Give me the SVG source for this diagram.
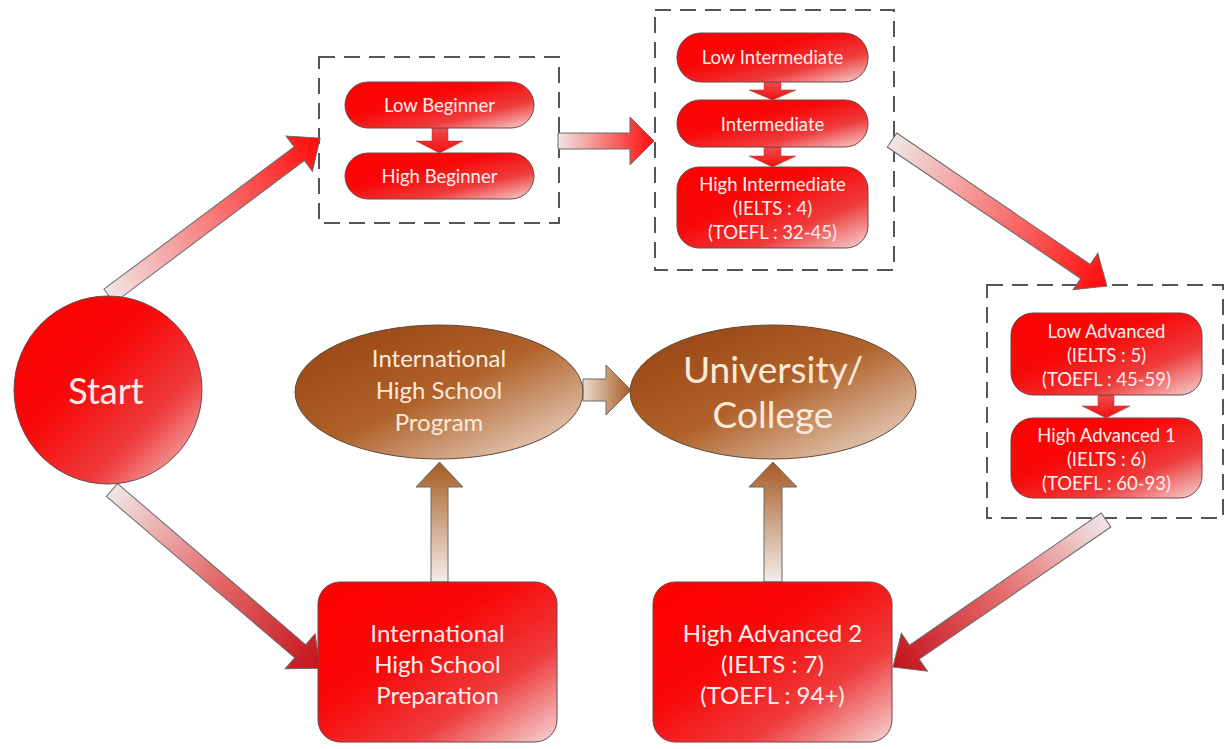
<svg xmlns="http://www.w3.org/2000/svg" width="1225" height="749" viewBox="0 0 1225 749">
<style>
.node{stroke:#6e4646;stroke-width:1}
.bnode{stroke:#5e4a3e;stroke-width:1}
.dash{fill:none;stroke:#555;stroke-width:2;stroke-dasharray:16 9}
.arrow{stroke:#6a6a6a;stroke-width:1}
.t{font-family:Lato,"Liberation Sans",sans-serif;fill:#fdeeee;text-anchor:middle;dominant-baseline:central}
.s{font-size:18.5px}
.m{font-size:24px}
.bt{fill:#fbeadb}
</style>
<defs>
<linearGradient id="gRed" x1="0" y1="0" x2="1" y2="1">
<stop offset="0" stop-color="#ff0000"/><stop offset="0.4" stop-color="#f80808"/><stop offset="0.7" stop-color="#ee3c3c"/><stop offset="1" stop-color="#f5d6d6"/>
</linearGradient>
<linearGradient id="gBrown" x1="0" y1="0" x2="1" y2="1">
<stop offset="0" stop-color="#944010"/><stop offset="0.5" stop-color="#b0622a"/><stop offset="1" stop-color="#f1e4da"/>
</linearGradient>
<linearGradient id="gArR" x1="0" y1="0" x2="1" y2="0">
<stop offset="0" stop-color="#f0e6e6"/><stop offset="1" stop-color="#ff0a0a"/>
</linearGradient>
<linearGradient id="gArD" x1="0" y1="0" x2="1" y2="0">
<stop offset="0" stop-color="#f0e6e6"/><stop offset="0.5" stop-color="#e46a6a"/><stop offset="1" stop-color="#c4121c"/>
</linearGradient>
<linearGradient id="gArBV" x1="0" y1="1" x2="0" y2="0">
<stop offset="0" stop-color="#f4eeea"/><stop offset="1" stop-color="#a65a22"/>
</linearGradient>
<linearGradient id="gArBH" x1="0" y1="0" x2="1" y2="0">
<stop offset="0" stop-color="#ecdccc"/><stop offset="1" stop-color="#a65a22"/>
</linearGradient>
<linearGradient id="gSmall" x1="0" y1="0" x2="0" y2="1">
<stop offset="0" stop-color="#f24a4a"/><stop offset="1" stop-color="#f01010"/>
</linearGradient>
</defs>

<g id="box-beginner"><rect class="dash" x="319" y="57" width="240" height="166"/></g>
<g id="box-intermediate"><rect class="dash" x="655" y="10" width="239" height="260"/></g>
<g id="box-advanced"><rect class="dash" x="987" y="285" width="236" height="233"/></g>

<g id="connectors">
<polygon class="arrow" fill="url(#gArR)" transform="translate(109,296) rotate(-36.8)" points="0,-8.5 237.6,-8.5 237.6,-22 263.6,0 237.6,22 237.6,8.5 0,8.5"/>
<polygon class="arrow" fill="url(#gArR)" points="558,133 630,133 630,117 654,141 630,165 630,149 558,149"/>
<polygon class="arrow" fill="url(#gArR)" transform="translate(892,140) rotate(34.2)" points="0,-8.5 233.9,-8.5 233.9,-22 259.9,0 233.9,22 233.9,8.5 0,8.5"/>
<polygon class="arrow" fill="url(#gArD)" transform="translate(112,490) rotate(40.6)" points="0,-8.5 247.8,-8.5 247.8,-23 273.8,0 247.8,23 247.8,8.5 0,8.5"/>
<polygon class="arrow" fill="url(#gArD)" transform="translate(1106,520) rotate(145.4)" points="0,-8.5 232.8,-8.5 232.8,-23 258.8,0 232.8,23 232.8,8.5 0,8.5"/>
<polygon class="arrow" fill="url(#gArBH)" points="583,379 606,379 606,365 631,390 606,415 606,401 583,401"/>
<polygon class="arrow" fill="url(#gArBV)" points="431,582 431,487 416,487 439.5,462 463,487 448,487 448,582"/>
<polygon class="arrow" fill="url(#gArBV)" points="764,582 764,487 749,487 773,462 797,487 782,487 782,582"/>
<polygon fill="url(#gSmall)" stroke="#b03030" stroke-width="0.5" points="432,128 448,128 448,141 463,141 439.5,153 416,141 432,141"/>
<polygon fill="url(#gSmall)" stroke="#b03030" stroke-width="0.5" points="764,82 781,82 781,90 796,90 772.5,100 749,90 764,90"/>
<polygon fill="url(#gSmall)" stroke="#b03030" stroke-width="0.5" points="764,147 781,147 781,156 796,156 772.5,167 749,156 764,156"/>
<polygon fill="url(#gSmall)" stroke="#b03030" stroke-width="0.5" points="1098,395 1114,395 1114,406 1130,406 1106,418 1082,406 1098,406"/>
</g>

<g id="start"><circle class="node" cx="108" cy="390" r="94" fill="url(#gRed)"/><text class="t" x="106" y="390" font-size="36">Start</text></g>

<g id="low-beginner"><rect class="node" x="345" y="82" width="189" height="46" rx="23" fill="url(#gRed)"/><text class="t s" x="439.5" y="105">Low Beginner</text></g>
<g id="high-beginner"><rect class="node" x="345" y="153" width="189" height="46" rx="23" fill="url(#gRed)"/><text class="t s" x="439.5" y="176">High Beginner</text></g>

<g id="low-intermediate"><rect class="node" x="677" y="33" width="191" height="49" rx="24" fill="url(#gRed)"/><text class="t s" x="772.5" y="57">Low Intermediate</text></g>
<g id="intermediate"><rect class="node" x="677" y="100" width="191" height="47" rx="23" fill="url(#gRed)"/><text class="t s" x="772.5" y="124">Intermediate</text></g>
<g id="high-intermediate"><rect class="node" x="677" y="167" width="191" height="81" rx="22" fill="url(#gRed)"/><text class="t s" x="772.5" y="183.5">High Intermediate</text><text class="t s" x="772.5" y="207.5">(IELTS : 4)</text><text class="t s" x="772.5" y="231.5">(TOEFL : 32-45)</text></g>

<g id="low-advanced"><rect class="node" x="1011" y="313" width="191" height="82" rx="22" fill="url(#gRed)"/><text class="t s" x="1106.5" y="331">Low Advanced</text><text class="t s" x="1106.5" y="355">(IELTS : 5)</text><text class="t s" x="1106.5" y="379">(TOEFL : 45-59)</text></g>
<g id="high-advanced-1"><rect class="node" x="1011" y="418" width="191" height="80" rx="22" fill="url(#gRed)"/><text class="t s" x="1106.5" y="435">High Advanced 1</text><text class="t s" x="1106.5" y="459">(IELTS : 6)</text><text class="t s" x="1106.5" y="483">(TOEFL : 60-93)</text></g>

<g id="ihs-program"><ellipse class="bnode" cx="439" cy="392" rx="144" ry="67" fill="url(#gBrown)"/><text class="t m bt" x="439" y="357">International</text><text class="t m bt" x="439" y="389">High School</text><text class="t m bt" x="439" y="421">Program</text></g>
<g id="university"><ellipse class="bnode" cx="773" cy="392" rx="143" ry="67" fill="url(#gBrown)"/><text class="t bt" x="773" y="368" font-size="37">University/</text><text class="t bt" x="773" y="413" font-size="37">College</text></g>

<g id="ihs-preparation"><rect class="node" x="318" y="582" width="239" height="160" rx="22" fill="url(#gRed)"/><text class="t m" x="437.5" y="632">International</text><text class="t m" x="437.5" y="663">High School</text><text class="t m" x="437.5" y="694">Preparation</text></g>
<g id="high-advanced-2"><rect class="node" x="653" y="582" width="239" height="160" rx="22" fill="url(#gRed)"/><text class="t m" x="772.5" y="632">High Advanced 2</text><text class="t m" x="772.5" y="663">(IELTS : 7)</text><text class="t m" x="772.5" y="694">(TOEFL : 94+)</text></g>
</svg>
